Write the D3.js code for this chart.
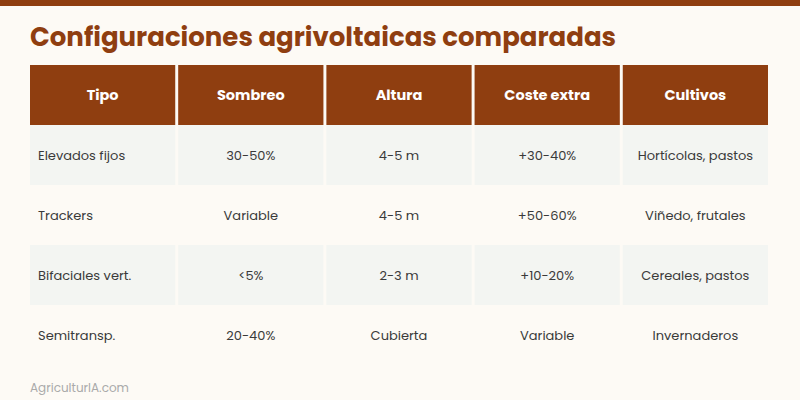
<!DOCTYPE html>
<html><head><meta charset="utf-8">
<script src="https://cdn.jsdelivr.net/npm/d3@7"></script>
<style>body{margin:0;background:#fdfaf5;}</style>
</head><body>
<svg id="c" width="800" height="400"></svg>
<script>
const columns = ["Tipo","Sombreo","Altura","Coste extra","Cultivos"];
const tipo = ["Elevados fijos","Trackers","Bifaciales vert.","Semitransp."];
const sombreo = ["30-50%","Variable","<5%","20-40%"];
const altura = ["4-5 m","4-5 m","2-3 m","Cubierta"];
const coste = ["+30-40%","+50-60%","+10-20%","Variable"];
const cultivos = ["Hortícolas, pastos","Viñedo, frutales","Cereales, pastos","Invernaderos"];
const rows = tipo.map((t,i)=>[t,sombreo[i],altura[i],coste[i],cultivos[i]]);

const svg = d3.select("#c");
const font = "Poppins, Lato, 'Open Sans', sans-serif";
svg.append("rect").attr("width",800).attr("height",400).attr("fill","#fdfaf5");
svg.append("rect").attr("width",800).attr("height",6).attr("fill","#8f3e10");
svg.append("text").attr("x",30).attr("y",46).text("Configuraciones agrivoltaicas comparadas")
  .attr("font-family",font).attr("font-weight",700).attr("font-size",26).attr("fill","#8f3e10");

const x = d3.scaleBand().domain(d3.range(columns.length)).range([30,768]).paddingInner(0.02);
const y = d3.scaleBand().domain(d3.range(rows.length+1)).range([65,365]);

const hdr = svg.append("g");
columns.forEach((c,j)=>{
  hdr.append("rect").attr("x",x(j)).attr("y",y(0)).attr("width",x.bandwidth()).attr("height",y.bandwidth()).attr("fill","#8f3e10");
  hdr.append("text").attr("x",x(j)+x.bandwidth()/2).attr("y",y(0)+y.bandwidth()/2+5)
    .attr("text-anchor","middle").attr("font-family",font).attr("font-weight",700).attr("font-size",14.5).attr("fill","#fff").text(c);
});
rows.forEach((r,i)=>{
  r.forEach((v,j)=>{
    if(i%2===0) svg.append("rect").attr("x",x(j)).attr("y",y(i+1)).attr("width",x.bandwidth()).attr("height",y.bandwidth()).attr("fill","#f3f5f2");
    svg.append("text").attr("x", j===0 ? x(j)+8 : x(j)+x.bandwidth()/2).attr("y",y(i+1)+y.bandwidth()/2+5)
      .attr("text-anchor", j===0?"start":"middle").attr("font-family",font).attr("font-size",13).attr("fill","#3a3a3a").text(v);
  });
});
svg.append("text").attr("x",30).attr("y",392).text("AgriculturIA.com")
  .attr("font-family",font).attr("font-size",12).attr("fill","#aaa");
</script>
</body></html>
